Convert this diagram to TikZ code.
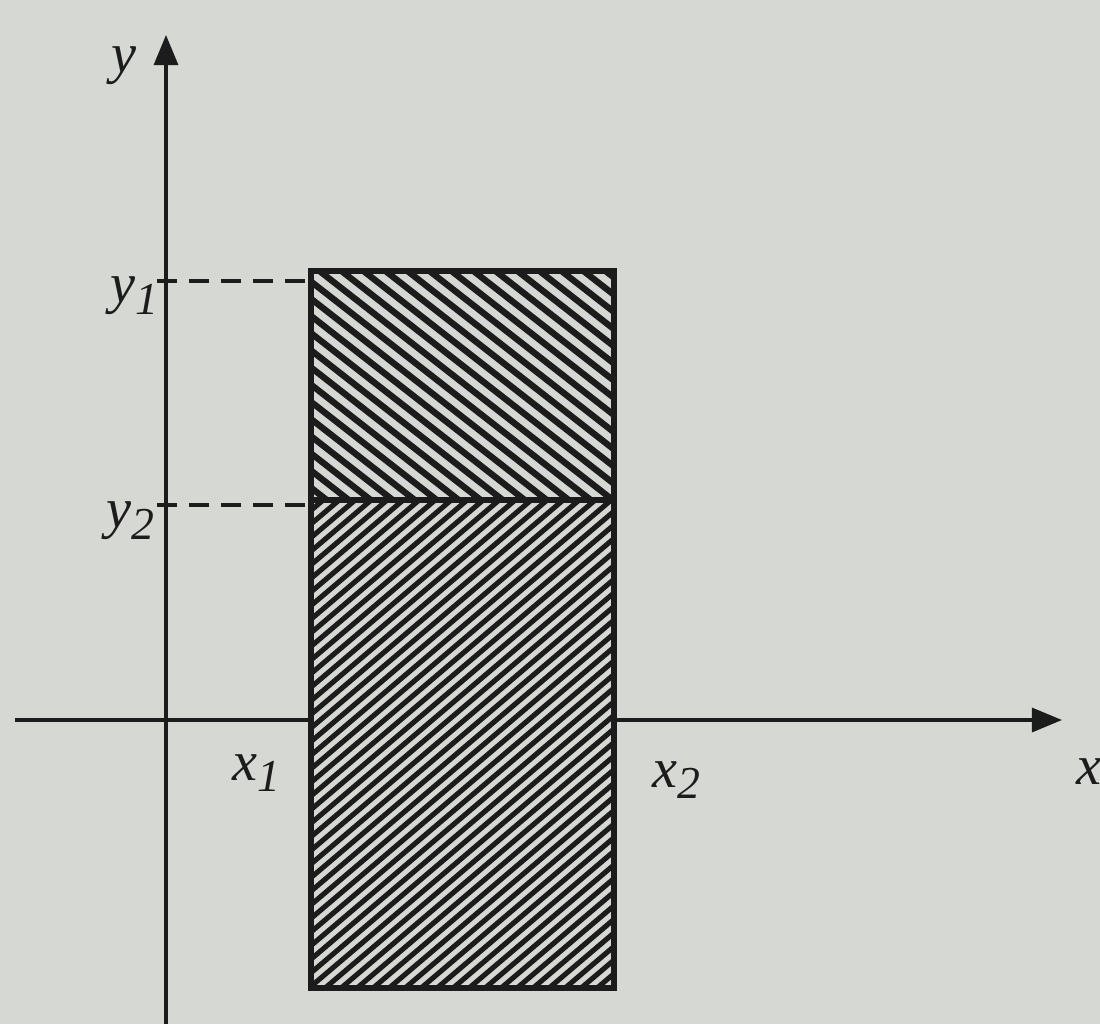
\documentclass[tikz,border=0pt]{standalone}
\usepackage{fontspec}
\setmainfont{Liberation Serif}
\usetikzlibrary{arrows.meta}
\definecolor{paper}{RGB}{214,216,212}
\definecolor{ink}{RGB}{28,28,28}
\tikzset{
  axis/.style={draw=ink, line width=0.9pt, -{Triangle[length=0.3cm,width=0.24cm]}},
  edge/.style={draw=ink, line width=1.5pt},
  guide/.style={draw=ink, line width=0.9pt, dash pattern=on 0.2cm off 0.12cm},
  hatchA/.style={draw=ink, line width=1.8pt},
  hatchB/.style={draw=ink, line width=1.45pt},
  lbl/.style={font=\fontsize{16}{18}\selectfont\itshape, text=ink, inner sep=0pt}
}
\newcommand{\subl}[2]{#1\raisebox{-0.45ex}{\fontsize{13}{15}\selectfont #2}}
\begin{document}
\begin{tikzpicture}[x=0.01cm,y=-0.01cm]
\fill[paper] (0,0) rectangle (1100,1024);
\useasboundingbox (0,0) rectangle (1100,1024);
% region corners
\coordinate (TL) at (311,271);
\coordinate (TR) at (614,271);
\coordinate (ML) at (311,500);
\coordinate (MR) at (614,500);
\coordinate (BL) at (311,988);
\coordinate (BR) at (614,988);
% axes
\coordinate (xs) at (15,720);
\coordinate (xe) at (1062,720);
\coordinate (ys) at (166,1024);
\coordinate (ye) at (166,35);
\draw[axis] (xs) -- (xe);
\draw[axis] (ys) -- (ye);
% region background
\fill[paper] (TL) rectangle (BR);
% hatching upper (\\)
\begin{scope}
  \clip (TL) rectangle (MR);
  \foreach \i in {-20,...,20} {
    \draw[hatchA] (311+\i*22,230) -- ++(420,328);
  }
\end{scope}
% hatching lower (//)
\begin{scope}
  \clip (ML) rectangle (BR);
  \foreach \i in {-45,...,25} {
    \draw[hatchB] (311+\i*16,1000) -- ++(600,-510);
  }
\end{scope}
% rectangle
\draw[edge] (TL) rectangle (BR);
\draw[edge] (ML) -- (MR);
% guides
\coordinate (g1) at (157,281);
\coordinate (g2) at (157,505);
\draw[guide] (g1) -- (TL |- g1);
\draw[guide] (g2) -- (ML |- g2);
% labels
\node[lbl] (ly) at (124,66) {y};
\node[lbl] (ly1) at (134,296) {\subl{y}{1}};
\node[lbl] (ly2) at (130,521) {\subl{y}{2}};
\node[lbl] (lx1) at (256,773) {\subl{x}{1}};
\node[lbl] (lx2) at (676,780) {\subl{x}{2}};
\node[lbl, anchor=west] (lx) at (1076,772) {x};
\end{tikzpicture}
\end{document}
